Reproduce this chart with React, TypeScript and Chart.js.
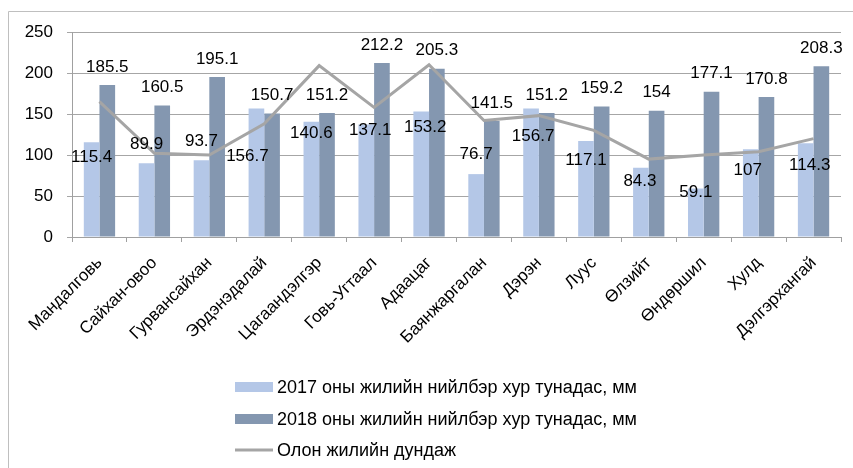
import React, { useEffect, useRef } from 'react';
import { Chart, registerables } from 'chart.js';

Chart.register(...registerables);

const categories = [
  'Мандалговь', 'Сайхан-овоо', 'Гурвансайхан', 'Эрдэнэдалай', 'Цагаандэлгэр',
  'Говь-Угтаал', 'Адаацаг', 'Баянжаргалан', 'Дэрэн', 'Луус', 'Өлзийт',
  'Өндөршил', 'Хулд', 'Дэлгэрхангай',
];
const rain2017 = [115.4, 89.9, 93.7, 156.7, 140.6, 137.1, 153.2, 76.7, 156.7, 117.1, 84.3, 59.1, 107, 114.3];
const rain2018 = [185.5, 160.5, 195.1, 150.7, 151.2, 212.2, 205.3, 141.5, 151.2, 159.2, 154, 177.1, 170.8, 208.3];
const longTermAvg = [165, 102, 100, 138, 209, 158, 210, 142, 148, 130, 95, 100, 104, 120];
const yTicks = [0, 50, 100, 150, 200, 250];
const seriesNames = [
  '2017 оны жилийн нийлбэр хур тунадас, мм',
  '2018 оны жилийн нийлбэр хур тунадас, мм',
  'Олон жилийн дундаж',
];

// label placement (style): pixel offsets of the 2017 value labels from bar top
const label2017Offset: [number, number][] = [
  [0, 15], [0, -19], [0, -19], [-9, 48], [0, 12], [4, 6], [4, 16],
  [0, -20], [2, 28], [0, 19], [-1, 13], [0, 4], [-3, 21], [4, 22],
];

const FONT = "'Liberation Sans', Arial, sans-serif";
const C2017 = '#b4c7e7';
const C2018 = '#8497b0';
const CAVG = '#a5a5a5';

const framePlugin = {
  id: 'frame',
  beforeDraw(chart: any) {
    const ctx = chart.ctx;
    ctx.save();
    ctx.fillStyle = '#ffffff';
    ctx.fillRect(0, 0, chart.width, chart.height);
    ctx.strokeStyle = '#bfbfbf';
    ctx.lineWidth = 1;
    ctx.beginPath();
    ctx.moveTo(8.5, chart.height + 2);
    ctx.lineTo(8.5, 11.5);
    ctx.lineTo(chart.width + 2, 11.5);
    ctx.stroke();
    ctx.restore();
  },
};

const labelPlugin = {
  id: 'valueLabels',
  afterDatasetsDraw(chart: any) {
    const ctx = chart.ctx;
    ctx.save();
    ctx.font = `17px ${FONT}`;
    ctx.fillStyle = '#000000';
    ctx.textAlign = 'center';
    ctx.textBaseline = 'middle';
    const m17 = chart.getDatasetMeta(1);
    const m18 = chart.getDatasetMeta(2);
    m17.data.forEach((el: any, i: number) => {
      const [dx, dy] = label2017Offset[i];
      ctx.fillText(String(rain2017[i]), el.x + dx, el.y + dy);
    });
    m18.data.forEach((el: any, i: number) => {
      ctx.fillText(String(rain2018[i]), el.x, el.y - 18);
    });
    ctx.restore();
  },
};

const legendPlugin = {
  id: 'customLegend',
  afterDraw(chart: any) {
    const ctx = chart.ctx;
    ctx.save();
    ctx.font = `18px ${FONT}`;
    ctx.textBaseline = 'middle';
    ctx.textAlign = 'left';
    const rows = [387, 419, 450];
    const colors = [C2017, C2018, CAVG];
    rows.forEach((y, i) => {
      if (i < 2) {
        ctx.fillStyle = colors[i];
        ctx.fillRect(235, y - 5, 38, 10);
      } else {
        ctx.strokeStyle = colors[i];
        ctx.lineWidth = 3;
        ctx.beginPath();
        ctx.moveTo(235, y);
        ctx.lineTo(273, y);
        ctx.stroke();
      }
      ctx.fillStyle = '#000000';
      ctx.fillText(seriesNames[i], 277, y + 1);
    });
    ctx.restore();
  },
};

export default function App() {
  const ref = useRef<HTMLCanvasElement | null>(null);
  useEffect(() => {
    document.body.style.margin = '0';
    if (!ref.current) return;
    const chart = new Chart(ref.current, {
      type: 'bar',
      data: {
        labels: categories,
        datasets: [
          {
            type: 'line',
            label: seriesNames[2],
            data: longTermAvg,
            borderColor: CAVG,
            backgroundColor: CAVG,
            borderWidth: 3,
            pointRadius: 0,
            tension: 0,
            order: 0,
          } as any,
          {
            label: seriesNames[0],
            data: rain2017,
            backgroundColor: C2017,
            borderWidth: 0,
            categoryPercentage: 0.57,
            barPercentage: 1,
            order: 1,
          },
          {
            label: seriesNames[1],
            data: rain2018,
            backgroundColor: C2018,
            borderWidth: 0,
            categoryPercentage: 0.57,
            barPercentage: 1,
            order: 2,
          },
        ],
      },
      options: {
        responsive: false,
        animation: false,
        layout: { padding: { left: 0, right: 12, top: 32, bottom: 91 } },
        plugins: {
          legend: { display: false },
          tooltip: { enabled: false },
        },
        scales: {
          x: {
            afterFit: (s: any) => { s.height = 140; },
            grid: {
              offset: true,
              drawOnChartArea: false,
              tickLength: 5,
              color: '#a0a0a0',
            },
            border: { color: '#a0a0a0' },
            ticks: {
              autoSkip: false,
              minRotation: 45,
              maxRotation: 45,
              color: '#000000',
              font: { family: FONT, size: 17 },
              padding: 11,
            },
          },
          y: {
            min: yTicks[0],
            max: yTicks[yTicks.length - 1],
            afterFit: (s: any) => { s.width = 72; },
            afterBuildTicks: (s: any) => { s.ticks = yTicks.map((v) => ({ value: v })); },
            grid: { color: '#a6a6a6', tickLength: 5 },
            border: { color: '#a0a0a0' },
            ticks: {
              color: '#000000',
              font: { family: FONT, size: 17 },
              padding: 14,
            },
          },
        },
      },
      plugins: [framePlugin, labelPlugin, legendPlugin],
    });
    return () => chart.destroy();
  }, []);
  return (
    <div style={{ position: 'absolute', left: 0, top: 0, width: 853, height: 468 }}>
      <canvas ref={ref} width={853} height={468} style={{ width: 853, height: 468 }} />
    </div>
  );
}
